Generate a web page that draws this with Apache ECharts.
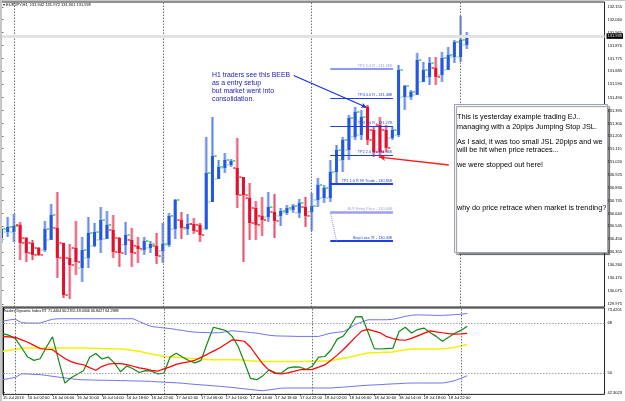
<!DOCTYPE html>
<html><head><meta charset="utf-8">
<script src="https://cdn.jsdelivr.net/npm/echarts@6/dist/echarts.min.js"></script>
<style>html,body{margin:0;padding:0;background:#fff}#c{width:625px;height:401px}</style>
</head><body><div id="c"></div>
<script>
// ---- DATA ----
// EURJPY H1 bars, one per hour from 15 Jul 22:00: [open, close, low, high]
const ohlc = [
[130.460,130.526,130.424,130.534],[130.504,130.541,130.468,130.614],[130.504,130.548,130.431,130.636],
[130.556,130.424,130.299,130.578],[130.460,130.350,130.284,130.468],[130.424,130.336,130.299,130.446],
[130.387,130.336,130.328,130.394],[130.372,130.526,130.358,130.585],[130.446,130.629,130.446,130.710],
[130.534,130.314,130.167,130.797],[130.424,130.042,130.020,130.424],[130.314,130.262,130.013,130.416],
[130.387,130.284,130.189,130.585],[130.240,130.372,130.138,130.468],[130.314,130.497,130.240,130.614],
[130.402,130.504,130.394,130.570],[130.446,130.592,130.350,130.687],[130.453,130.556,130.453,130.658],
[130.519,130.358,130.314,130.629],[130.460,130.350,130.248,130.468],[130.409,130.482,130.336,130.578],
[130.446,130.350,130.248,130.534],[130.402,130.380,130.277,130.468],[130.372,130.438,130.336,130.468],
[130.387,130.416,130.350,130.438],[130.402,130.328,130.270,130.497],[130.365,130.416,130.277,130.570],
[130.409,130.622,130.394,130.644],[130.526,130.739,130.453,130.746],[130.592,130.534,130.453,130.651],
[130.526,130.563,130.482,130.636],[130.563,130.512,130.490,130.607],[130.556,130.482,130.431,130.570],
[130.526,130.937,130.519,131.201],[130.724,131.061,130.724,131.347],[130.893,130.981,130.893,131.032],
[130.973,131.032,130.937,131.083],[130.995,131.025,130.981,131.039],[130.973,130.775,130.680,131.193],
[130.907,130.775,130.284,130.907],[130.753,130.570,130.446,130.863],[130.680,130.556,130.446,130.731],
[130.622,130.592,130.475,130.761],[130.614,130.687,130.578,130.797],[130.651,130.585,130.460,130.783],
[130.622,130.658,130.548,130.680],[130.644,130.680,130.629,130.702],[130.666,130.695,130.644,130.710],
[130.644,130.717,130.607,130.746],[130.687,130.622,130.541,130.761],[130.651,130.695,130.512,130.790],
[130.739,130.849,130.687,130.900],[130.753,130.827,130.717,130.849],[130.753,130.944,130.724,131.032],
[130.944,131.105,130.849,131.142],[131.032,131.179,130.944,131.201],[131.105,131.340,131.032,131.362],
[131.201,131.384,131.179,131.421],[131.215,131.347,131.179,131.399],[131.421,131.179,131.142,131.435],
[131.252,131.091,131.054,131.274],[131.289,131.091,131.047,131.347],[131.252,131.120,131.091,131.289],
[131.193,131.252,131.179,131.274],[131.215,131.692,131.201,131.729],[131.494,131.575,131.399,131.582],
[131.494,131.531,131.472,131.545],[131.509,131.765,131.509,131.817],[131.604,131.692,131.604,131.751],
[131.641,131.743,131.582,131.787],[131.707,131.641,131.582,131.787],[131.655,131.780,131.604,131.824],
[131.692,131.802,131.692,131.860],[131.787,131.897,131.743,131.912],[131.787,131.912,131.751,132.088],
[131.875,131.939,131.846,131.970]
];
// Traders Dynamic Index buffers
const tdiUpper = [68.68,69.12,69.37,68.14,68.00,68.00,68.00,68.72,69.37,69.55,69.55,69.55,69.55,69.55,69.55,69.55,69.55,69.55,69.55,69.55,69.55,69.55,68.58,67.57,66.74,66.49,66.24,66.02,65.66,65.34,64.98,64.72,64.62,64.54,64.44,64.54,64.87,65.23,65.01,64.80,64.58,64.36,63.97,63.61,63.39,63.32,63.28,63.21,63.18,63.18,63.18,63.18,63.79,64.36,64.65,64.90,66.13,67.57,68.40,69.19,69.19,69.19,69.19,69.37,69.87,70.41,70.81,70.95,70.88,70.84,70.77,70.77,70.88,71.02,71.17,71.44];
const tdiBase = [57.85,58.24,58.60,58.96,59.00,59.00,59.00,59.00,59.00,59.00,59.00,59.00,59.00,59.00,58.96,58.89,58.82,58.78,58.71,58.68,58.46,58.14,57.81,57.34,56.88,56.37,55.94,55.80,55.65,55.51,55.36,55.22,55.08,54.90,54.79,54.79,54.79,54.79,54.79,54.64,54.43,54.25,54.18,54.18,54.18,54.18,54.18,54.18,54.18,54.21,54.25,54.28,54.36,54.43,54.86,55.29,55.72,56.23,56.73,57.20,57.31,57.38,57.49,57.60,57.99,58.35,58.64,58.64,58.64,58.64,58.64,58.71,58.96,59.29,59.76,60.24];
const tdiLower = [47.66,47.98,48.45,49.71,49.64,49.53,49.42,49.14,48.81,48.52,48.24,47.95,47.66,47.55,47.52,47.44,47.41,47.37,47.34,47.26,47.23,47.15,47.12,47.05,46.98,46.83,46.72,46.58,46.47,46.33,46.11,45.90,45.75,45.57,45.39,45.21,45.03,44.82,44.56,44.31,44.06,43.81,43.63,43.95,44.24,44.56,44.60,44.60,44.60,44.60,44.60,44.60,44.60,44.60,44.78,44.92,45.10,45.28,45.46,45.61,45.72,45.82,45.97,46.08,46.18,46.33,46.40,46.40,46.40,46.40,46.40,46.40,46.76,47.26,48.09,49.03];
const tdiRsi = [64.20,63.55,62.40,59.10,55.75,54.55,55.15,59.30,63.05,54.45,46.35,48.30,49.55,50.85,55.70,57.05,55.05,55.75,53.65,50.45,52.55,51.55,50.20,50.85,50.65,49.70,49.95,55.75,57.15,55.80,54.50,53.65,54.55,60.75,66.50,65.90,65.30,63.30,59.55,53.90,48.05,47.60,49.05,51.15,50.05,50.00,51.75,52.20,52.10,51.30,52.55,55.70,55.95,58.30,62.20,63.35,66.35,70.25,70.30,64.60,58.80,58.65,58.80,58.95,64.95,66.50,64.40,65.65,66.20,64.60,63.20,61.45,62.85,64.30,65.35,66.84];
const tdiSignal = [63.14,63.03,62.82,61.95,61.09,59.97,58.82,58.57,58.42,56.77,55.26,54.10,53.38,52.99,51.94,51.01,52.41,53.17,53.42,53.38,53.02,52.45,51.87,51.48,50.97,50.65,51.51,52.20,53.13,53.67,54.00,54.57,55.65,56.73,57.88,59.04,60.48,61.92,61.74,61.45,59.29,56.16,53.24,50.97,49.86,49.64,50.07,50.61,51.19,51.19,51.33,52.12,52.92,54.57,56.44,58.46,60.73,63.00,65.16,65.70,65.08,64.44,63.10,62.42,61.95,61.81,62.49,63.39,64.29,65.19,64.83,64.51,64.22,64.04,64.10,64.30];
const tdiLevels = [68, 50];
// tick labels
const timeTickIdx = [0,4,8,12,16,20,24,28,32,36,40,44,48,52,56,60,64,68,72];
const timeTickLabels = ['15 Jul 2013','16 Jul 02:00','16 Jul 06:00','16 Jul 10:00','16 Jul 14:00','16 Jul 18:00','16 Jul 22:00','17 Jul 02:00','17 Jul 06:00','17 Jul 10:00','17 Jul 14:00','17 Jul 18:00','17 Jul 22:00','18 Jul 02:00','18 Jul 06:00','18 Jul 10:00','18 Jul 14:00','18 Jul 18:00','18 Jul 22:00'];
const priceTicks = [132.155,132.060,131.965,131.870,131.775,131.685,131.590,131.490,131.395,131.300,131.205,131.115,131.020,130.925,130.830,130.735,130.640,130.545,130.450,130.355,130.260,130.170,130.075,129.975];
const tdiTickValues = [72.8, 68, 50, 42.9];
const tdiTickLabels = ['73.4201','68','50','42.3023'];
const daySeparators = [2, 26, 50, 74];
const lastPrice = 131.939;
// trade objects
const levelNames = ['TP5 5.0 R - 131.698','TP4 4.0 R - 131.488','TP3 3.0 R - 131.278','TP2 2.0 R - 131.068','TP1 1.0 R 99 Trade - 130.858','BUY Entry Price - 130.648',"Stop Loss 'R' - 130.438"];
const levelValues = [131.698,131.488,131.278,131.068,130.858,130.648,130.438];
const levelStartBar = 53, levelEndBar = 63.1;
const entryToStop = [[53, 130.648],[54.0, 130.438]];
const beebArrow = [[47.1, 131.652],[58.8, 131.418]];
const stopArrow = [[72.1, 130.995],[60.9, 131.053]];
const headerText = 'EURJPY,H1  131.942 131.972 131.901 131.939';
const tdiHeader = 'Traders Dynamic Index RT 71.4404 60.2355 49.0306 66.8427 64.2988';
const noteBlue = ['H1 traders see this BEEB','as a entry setup','but market went into','consolidation.'];
const noteBox = ['This is yesterday example trading EJ..','managing with a 20pips Jumping Stop JSL.','As I said, it was too small JSL 20pips and we','will be hit when price retraces...','we were stopped out here!','why do price retrace when market is trending?'];

// ---- STYLE / LAYOUT ----
const FF = 'Liberation Sans, Arial, sans-serif';
const levelStyles = [
  {color:'#8d9cf2', width:2},{color:'#1f3fe0', width:1},{color:'#1f3fe0', width:1},{color:'#1f3fe0', width:1},
  {color:'#1f3fe0', width:2},{color:'#9c9ef2', width:2.5},{color:'#1f3fe0', width:2}
];
const noteBlueY = [75, 83, 91, 99];
const noteBoxY = [117.3, 126.7, 141.7, 150.2, 165, 207.7];
const X_MIN = 0, X_MAX = 97.2;

function renderCandle(params, api) {
  const i = api.value(0), o = api.value(1), c = api.value(2), l = api.value(3), h = api.value(4);
  const up = c >= o;
  const po = api.coord([i, o]), pc = api.coord([i, c]), pl = api.coord([i, l]), ph = api.coord([i, h]);
  const x = po[0];
  const dark = up ? '#2356e6' : '#e2102e';
  const light = up ? '#a6bbf3' : '#f2a0b0';
  const tick = up ? '#22c422' : '#ff1010';
  const tickL = up ? '#8fe38f' : '#ff8080';
  const top = Math.min(po[1], pc[1]), bh = Math.max(1, Math.abs(po[1] - pc[1]));
  return {type:'group', children:[
    {type:'rect', shape:{x:x-1.5, y:ph[1], width:3, height:Math.max(1, pl[1]-ph[1])}, style:{fill:light}},
    {type:'rect', shape:{x:x-0.5, y:ph[1], width:1, height:Math.max(1, pl[1]-ph[1])}, style:{fill:dark, opacity:0.55}},
    {type:'rect', shape:{x:x-1.5, y:top, width:3, height:bh}, style:{fill:dark}},
    {type:'rect', shape:{x:x-4.2, y:po[1]-0.6, width:2.4, height:1.3}, style:{fill:up ? tickL : tick}},
    {type:'rect', shape:{x:x+1.8, y:pc[1]-0.6, width:2.4, height:1.3}, style:{fill:tick}}
  ]};
}

const sepLines = daySeparators.map(v => ({xAxis:v, lineStyle:{color:'#707070', type:[1.5,1.5], width:1}}));
const levelLines = levelValues.map((v, k) => [
  {coord:[levelStartBar, v], lineStyle:{color:levelStyles[k].color, width:levelStyles[k].width, type:'solid'},
   label:{show:true, position:'insideEndTop', formatter:levelNames[k], fontSize:3.8, fontFamily:FF, color:levelStyles[k].color, distance:1}},
  {coord:[levelEndBar, v]}
]);
const arrowLines = [
  [{coord:entryToStop[0], symbol:'none', lineStyle:{color:'#8a8af0', width:1, type:[1,1]}}, {coord:entryToStop[1], symbol:'none'}],
  [{coord:beebArrow[0], symbol:'none', lineStyle:{color:'#1a2ee0', width:1.1, type:'solid'}}, {coord:beebArrow[1], symbol:'arrow', symbolSize:[4,5]}],
  [{coord:stopArrow[0], symbol:'none', lineStyle:{color:'#ff1a1a', width:1.4, type:'solid'}}, {coord:stopArrow[1], symbol:'arrow', symbolSize:[5,6]}]
];

const chart = echarts.init(document.getElementById('c'), null, {width:625, height:401});
chart.setOption({
  animation:false,
  backgroundColor:'#ffffff',
  textStyle:{fontFamily:FF},
  grid:[
    {left:1.5, top:2, width:607.5, height:305, show:true, borderColor:'#222', borderWidth:1, backgroundColor:'#fff'},
    {left:1.5, top:308, width:607.5, height:86.4, show:true, borderColor:'#222', borderWidth:1, backgroundColor:'#fff'}
  ],
  xAxis:[
    {gridIndex:0, type:'value', min:X_MIN, max:X_MAX, show:false},
    {gridIndex:1, type:'value', min:X_MIN, max:X_MAX,
     axisLine:{show:false}, splitLine:{show:false},
     axisTick:{show:true, customValues:timeTickIdx, length:1.5, lineStyle:{color:'#000', width:0.6}},
     axisLabel:{customValues:timeTickIdx, fontSize:4, fontFamily:FF, color:'#000', align:'left', margin:1.2,
       formatter:v => { const k = timeTickIdx.indexOf(Math.round(v)); return k >= 0 ? timeTickLabels[k] : ''; }}}
  ],
  yAxis:[
    {gridIndex:0, type:'value', position:'right', min:129.954, max:132.190, splitLine:{show:false},
     axisLine:{show:true, lineStyle:{color:'#111', width:1}},
     axisTick:{show:true, customValues:priceTicks, length:2, lineStyle:{color:'#111', width:0.6}},
     axisLabel:{customValues:priceTicks, fontSize:4, fontFamily:FF, color:'#000', margin:3, formatter:v => v.toFixed(3)}},
    {gridIndex:1, type:'value', position:'right', min:42.30, max:73.42, splitLine:{show:false},
     axisLine:{show:true, lineStyle:{color:'#111', width:1}},
     axisTick:{show:true, customValues:tdiTickValues, length:2, lineStyle:{color:'#111', width:0.6}},
     axisLabel:{customValues:tdiTickValues, fontSize:4, fontFamily:FF, color:'#000', margin:3,
       formatter:v => { let k = 0, best = 1e9; tdiTickValues.forEach((t, j) => { if (Math.abs(t - v) < best) { best = Math.abs(t - v); k = j; } }); return tdiTickLabels[k]; }}}
  ],
  series:[
    {type:'line', name:'ref0', xAxisIndex:0, yAxisIndex:0, data:ohlc.map((d, i) => [i, d[1]]), symbol:'none',
     lineStyle:{opacity:0}, silent:true, z:1,
     markLine:{silent:true, symbol:['none','none'], label:{show:false},
       data:[...sepLines,
         {yAxis:lastPrice, lineStyle:{color:'#e2e2e2', width:3, type:'solid'},
          label:{show:true, position:'end', formatter:lastPrice.toFixed(3), backgroundColor:'#000', color:'#fff', fontSize:4, fontFamily:FF, padding:[1,1,0.5,1], distance:2}}]}},
    {type:'custom', name:'bars', xAxisIndex:0, yAxisIndex:0, clip:true, z:2,
     data:ohlc.map((d, i) => [i, d[0], d[1], d[2], d[3]]), encode:{x:0, y:[1,2,3,4]}, renderItem:renderCandle},
    {type:'line', name:'ref1', xAxisIndex:0, yAxisIndex:0, data:ohlc.map((d, i) => [i, d[1]]), symbol:'none',
     lineStyle:{opacity:0}, silent:true, z:3,
     markLine:{silent:true, symbol:['none','none'], label:{show:false}, data:[...levelLines, ...arrowLines]}},
    {type:'line', name:'upper', xAxisIndex:1, yAxisIndex:1, data:tdiUpper.map((v, i) => [i, v]), symbol:'none',
     lineStyle:{color:'#7272f2', width:1}, z:2,
     markLine:{silent:true, symbol:['none','none'], label:{show:false},
       data:[...daySeparators.map(v => ({xAxis:v, lineStyle:{color:'#707070', type:[1.5,1.5], width:1}})),
             ...tdiLevels.map(v => ({yAxis:v, lineStyle:{color:'#8c8c8c', type:[1.5,1.5], width:0.8}}))]}},
    {type:'line', name:'lower', xAxisIndex:1, yAxisIndex:1, data:tdiLower.map((v, i) => [i, v]), symbol:'none',
     lineStyle:{color:'#7272f2', width:1}, z:2},
    {type:'line', name:'base', xAxisIndex:1, yAxisIndex:1, data:tdiBase.map((v, i) => [i, v]), symbol:'none',
     lineStyle:{color:'#f2f200', width:1.5}, z:3},
    {type:'line', name:'rsi', xAxisIndex:1, yAxisIndex:1, data:tdiRsi.map((v, i) => [i, v]), symbol:'none',
     lineStyle:{color:'#148a14', width:1.2}, z:4},
    {type:'line', name:'signal', xAxisIndex:1, yAxisIndex:1, data:tdiSignal.map((v, i) => [i, v]), symbol:'none',
     lineStyle:{color:'#ff0000', width:1.2}, z:5}
  ],
  graphic:[
    {type:'rect', z:100, shape:{x:0, y:0, width:2, height:401}, style:{fill:'#c6c6c6'}},
    {type:'rect', z:100, shape:{x:0, y:0, width:625, height:1}, style:{fill:'#c6c6c6'}},
    {type:'text', z:101, x:3, y:4.6, style:{text:'\u25BE ' + headerText, fontSize:4, fontFamily:FF, fill:'#000', verticalAlign:'middle'}},
    {type:'text', z:101, x:3, y:310.5, style:{text:tdiHeader, fontSize:3.7, fontFamily:FF, fill:'#000', verticalAlign:'middle'}},
    ...noteBlue.map((t, k) => ({type:'text', z:101, x:212, y:noteBlueY[k], style:{text:t, fontSize:6.9, fontFamily:FF, fill:'#2222b4', verticalAlign:'middle'}})),
    {type:'rect', z:100, shape:{x:454.5, y:104.5, width:153, height:148}, style:{fill:'#fff', stroke:'#9aa2b4', lineWidth:1, shadowColor:'rgba(60,60,60,0.55)', shadowOffsetX:2, shadowOffsetY:2, shadowBlur:1}},
    ...noteBox.map((t, k) => ({type:'text', z:101, x:457, y:noteBoxY[k], style:{text:t, fontSize:7.3, fontFamily:FF, fill:'#000', verticalAlign:'middle'}}))
  ]
});
</script>
</body></html>
